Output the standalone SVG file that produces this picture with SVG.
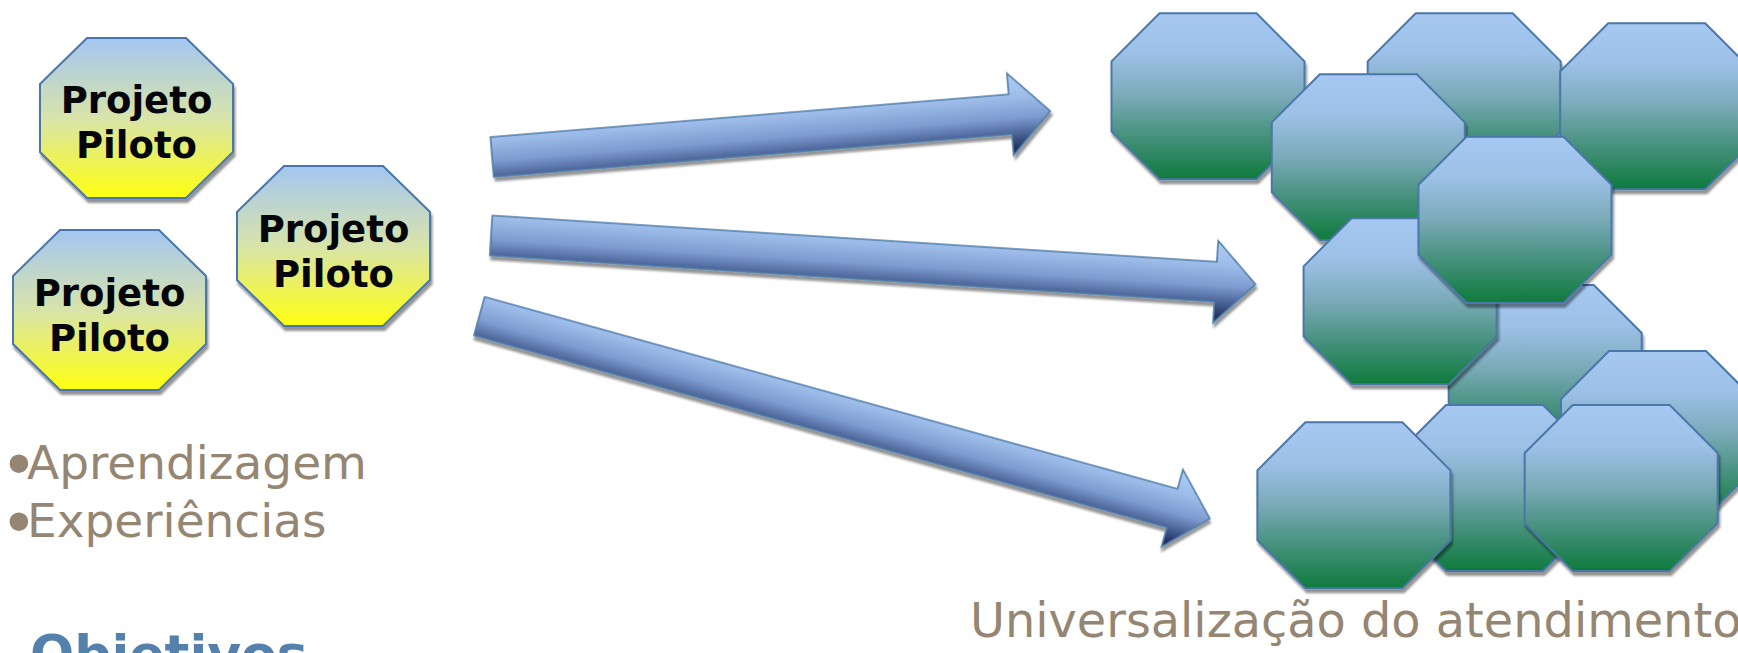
<svg xmlns="http://www.w3.org/2000/svg" width="1738" height="653" viewBox="0 0 1738 653">
  <style>
    .oct { stroke: #4a78a8; stroke-width: 2; stroke-linejoin: miter; filter: url(#shadow); }
    .pilot { fill: url(#gradPilot); }
    .unit { fill: url(#gradUnit); }
    .arrow { fill: url(#gradArrow); stroke: #4f7eaa; stroke-width: 1.6; stroke-linejoin: miter; filter: url(#shadow); }
    .label { font-family: "DejaVu Sans", Verdana, sans-serif; font-weight: bold; font-size: 37px; fill: #05050c; text-anchor: middle; }
    .bullet { font-family: "DejaVu Sans", Verdana, sans-serif; font-size: 47px; fill: #948672; }
    .dot { font-size: 64px; }
    .caption { font-family: "DejaVu Sans", Verdana, sans-serif; font-size: 47.8px; fill: #948672; }
    .title { font-family: "DejaVu Sans", Verdana, sans-serif; font-weight: bold; font-size: 52px; fill: #5381ab; }
  </style>
  <defs>
    <linearGradient id="gradPilot" x1="0" y1="0" x2="0" y2="1">
      <stop offset="0" stop-color="#a4c6f1"/>
      <stop offset="0.5" stop-color="#d8e4aa"/>
      <stop offset="1" stop-color="#ffff10"/>
    </linearGradient>
    <linearGradient id="gradUnit" x1="0" y1="0" x2="0" y2="1">
      <stop offset="0" stop-color="#a6c8f2"/>
      <stop offset="0.25" stop-color="#9cc0e6"/>
      <stop offset="0.5" stop-color="#7aaab8"/>
      <stop offset="0.75" stop-color="#43907a"/>
      <stop offset="1" stop-color="#0e7a3c"/>
    </linearGradient>
    <linearGradient id="gradArrow" x1="0" y1="0" x2="0" y2="1">
      <stop offset="0" stop-color="#b0cdf5"/>
      <stop offset="0.3" stop-color="#9cbbe8"/>
      <stop offset="0.55" stop-color="#7d9bcf"/>
      <stop offset="0.78" stop-color="#41598c"/>
      <stop offset="1" stop-color="#121c44"/>
    </linearGradient>
    <filter id="shadow" x="-5%" y="-5%" width="115%" height="125%">
      <feDropShadow dx="1.5" dy="4" stdDeviation="0.8" flood-color="#000" flood-opacity="0.42"/>
    </filter>
    <polygon id="octSmall" points="47,0 146,0 193,46 193,114 146,160 47,160 0,114 0,46"/>
    <polygon id="octLarge" points="48,0 145,0 193,48 193,118 145,166 48,166 0,118 0,48"/>
  </defs>

  <!-- pilot projects -->
  <g id="pilot-1">
    <use href="#octSmall" class="oct pilot" x="40" y="38"/>
    <text class="label" x="136.5" y="113">Projeto</text>
    <text class="label" x="136.5" y="158">Piloto</text>
  </g>
  <g id="pilot-2">
    <use href="#octSmall" class="oct pilot" x="13" y="230"/>
    <text class="label" x="109.5" y="306">Projeto</text>
    <text class="label" x="109.5" y="351">Piloto</text>
  </g>
  <g id="pilot-3">
    <use href="#octSmall" class="oct pilot" x="237" y="166"/>
    <text class="label" x="333.5" y="242">Projeto</text>
    <text class="label" x="333.5" y="287">Piloto</text>
  </g>

  <g id="pilot-notes">
    <text class="bullet" x="0" y="478.5"><tspan class="dot" x="0" dy="9.5">•</tspan><tspan x="27" dy="-9.5">Aprendizagem</tspan></text>
    <text class="bullet" x="0" y="536.5"><tspan class="dot" x="0" dy="9.5">•</tspan><tspan x="27" dy="-9.5">Experiências</tspan></text>
  </g>
  <text id="objectives" class="title" x="30" y="672">Objetivos</text>

  <!-- connectors: block arrows -->
  <g id="connectors">
    <polygon class="arrow" transform="translate(492.1,157) rotate(-4.71)" points="0,-20 520,-20 520,-41 560,0 520,41 520,20 0,20"/>
    <polygon class="arrow" transform="translate(491.1,235.5) rotate(3.654)" points="0,-20 726,-20 726,-41 766,0 726,41 726,20 0,20"/>
    <polygon class="arrow" transform="translate(479.35,316.15) rotate(15.49)" points="0,-20 719,-20 719,-40 758,0 719,40 719,20 0,20"/>
  </g>

  <!-- universal service units -->
  <g id="unit-a"><use href="#octLarge" class="oct unit" x="1111.5" y="13.3"/></g>
  <g id="unit-b"><use href="#octLarge" class="oct unit" x="1367.7" y="13.3"/></g>
  <g id="unit-c"><use href="#octLarge" class="oct unit" x="1560.2" y="23.3"/></g>
  <g id="unit-d"><use href="#octLarge" class="oct unit" x="1271.8" y="74.3"/></g>
  <g id="unit-g"><use href="#octLarge" class="oct unit" x="1448.7" y="285"/></g>
  <g id="unit-f"><use href="#octLarge" class="oct unit" x="1303.6" y="218.3"/></g>
  <g id="unit-e"><use href="#octLarge" class="oct unit" x="1418.5" y="136.7"/></g>
  <g id="unit-h"><use href="#octLarge" class="oct unit" x="1561" y="351"/></g>
  <g id="unit-i"><use href="#octLarge" class="oct unit" x="1398" y="405"/></g>
  <g id="unit-k"><use href="#octLarge" class="oct unit" x="1257.4" y="422.3"/></g>
  <g id="unit-j"><use href="#octLarge" class="oct unit" x="1524.7" y="405"/></g>

  <text id="universal" class="caption" x="970" y="637">Universalização do atendimento</text>
</svg>
